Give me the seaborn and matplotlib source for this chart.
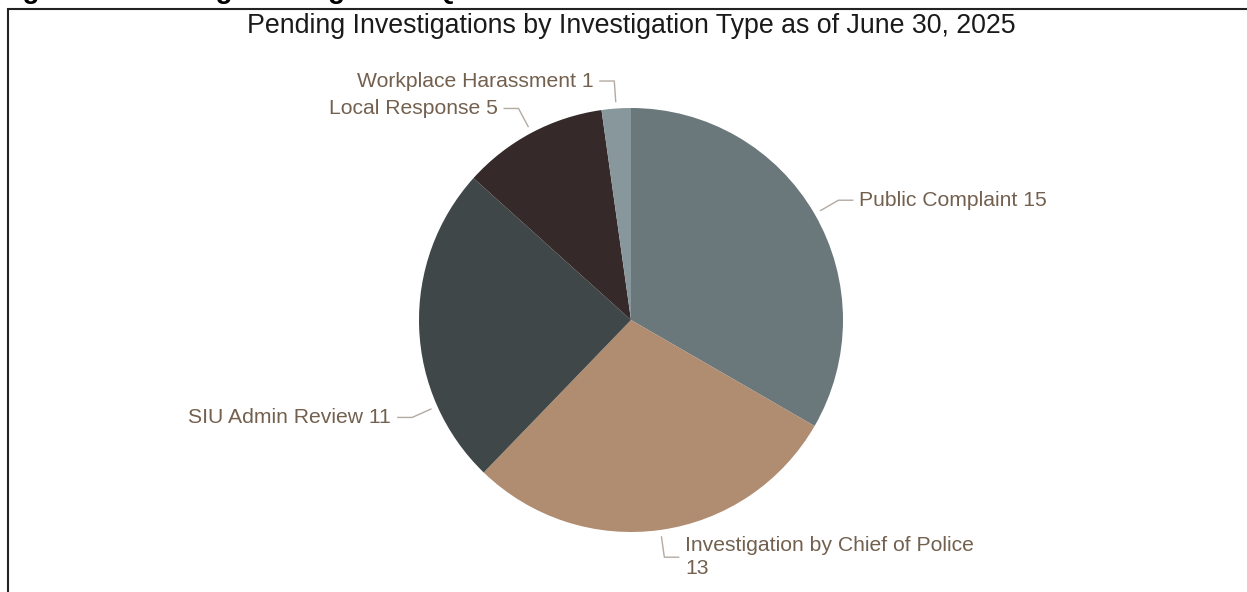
import textwrap
import numpy as np
import matplotlib
matplotlib.use("Agg")
import matplotlib.pyplot as plt
from matplotlib.patches import Rectangle
import seaborn as sns

# ---- data ----
categories = ["Public Complaint", "Investigation by Chief of Police",
              "SIU Admin Review", "Local Response", "Workplace Harassment"]
counts = [15, 13, 11, 5, 1]
colors = ["#6a777b", "#b08c71", "#3f4748", "#352a29", "#87979b"]
title = "Pending Investigations by Investigation Type as of June 30, 2025"
heading = "Figure 5: Pending Investigations Q2"

# label layout tweaks (degrees) per slice
angle_nudge = [0, 0, 22, 0, 0]

sns.set_theme(style="white")
plt.rcParams["font.family"] = ["Liberation Sans", "DejaVu Sans"]

W, H, DPI = 1247, 592, 100
fig = plt.figure(figsize=(W / DPI, H / DPI), dpi=DPI)
fig.patch.set_facecolor("white")

cx, cy, R = 631, 320, 212  # pie centre / radius in pixels
ax = fig.add_axes([0, 0, 1, 1])

wedges, _ = ax.pie(counts, colors=colors, startangle=90, counterclock=False,
                   radius=1.0, center=(0, 0), frame=True,
                   wedgeprops=dict(linewidth=0))
ax.set_xlim(-cx / R, (W - cx) / R)
ax.set_ylim(-(H - cy) / R, cy / R)
ax.set_aspect("auto")
ax.axis("off")

text_color = "#73604f"
line_color = "#b3aaa2"
for w, cat, val, nud in zip(wedges, categories, counts, angle_nudge):
    mid = np.deg2rad((w.theta1 + w.theta2) / 2 + nud)
    x0, y0 = 1.03 * np.cos(mid), 1.03 * np.sin(mid)
    x1, y1 = 1.13 * np.cos(mid), 1.13 * np.sin(mid)
    side = 1 if np.cos(mid) >= 0 else -1
    x2 = x1 + side * 15 / R
    ax.plot([x0, x1, x2], [y0, y1, y1], color=line_color, lw=1.0,
            solid_capstyle="butt")
    label = textwrap.fill(f"{cat} {val}", 32)
    ax.text(x2 + side * 6 / R, y1, label, ha="left" if side > 0 else "right",
            va="center", fontsize=15.2, color=text_color, linespacing=1.3)

fig.text(cx / W, 1 - 26 / H, title, ha="center", va="center",
         fontsize=19.3, color="#1a1a1a")

# clipped heading above the chart frame
fig.text(-2 / W, 1 + 1.5 / H, heading, ha="left", va="baseline",
         fontsize=20, fontweight="bold", color="black")

# chart frame
fig.add_artist(Rectangle((8 / W, -0.05), 1.2, (H - 9) / H + 0.05,
                         transform=fig.transFigure, fill=False,
                         edgecolor="#222222", linewidth=1.5))

fig.savefig("out.png", dpi=DPI)
